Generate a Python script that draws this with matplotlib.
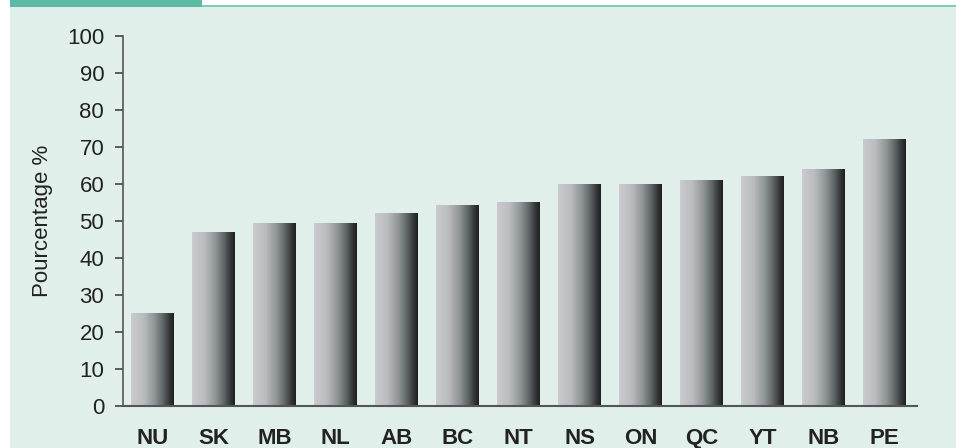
import matplotlib
matplotlib.use("Agg")
import matplotlib.pyplot as plt
import numpy as np
from matplotlib.colors import LinearSegmentedColormap
from matplotlib.patches import Rectangle

provinces = ["NU", "SK", "MB", "NL", "AB", "BC", "NT", "NS", "ON", "QC", "YT", "NB", "PE"]
values = [25, 47, 49.3, 49.3, 52, 54.2, 55.2, 60, 60, 61.1, 62.2, 63.9, 72]
y_ticks = [0, 10, 20, 30, 40, 50, 60, 70, 80, 90, 100]
y_label = "Pourcentage %"

W, H = 956, 448
fig = plt.figure(figsize=(W / 100, H / 100), dpi=100, facecolor="white")
plt.rcParams["font.family"] = ["Liberation Sans", "DejaVu Sans"]

# background panel and header decoration
fig.patches.append(Rectangle((10 / W, 0), 1 - 10 / W, 1 - 7 / H, transform=fig.transFigure,
                             facecolor="#e0efea", edgecolor="none", zorder=-10))
fig.patches.append(Rectangle((10 / W, 1 - 7 / H), 192 / W, 7 / H, transform=fig.transFigure,
                             facecolor="#5bbba5", edgecolor="none", zorder=-9))
fig.patches.append(Rectangle((202 / W, 1 - 7.5 / H), 1 - 202 / W, 2 / H, transform=fig.transFigure,
                             facecolor="#7ccbbb", edgecolor="none", zorder=-9))

ax = fig.add_axes([123 / W, 1 - 406 / H, (917 - 123) / W, (406 - 35.7) / H])
ax.set_facecolor("none")

x = np.arange(len(provinces))
bars = ax.bar(x, values, width=0.70, color="none", edgecolor="none", zorder=2)

cmap = LinearSegmentedColormap.from_list("bar", [
    (0.0, "#cacbce"),
    (0.3, "#b9bbbe"),
    (0.55, "#8f9496"),
    (0.75, "#5f6465"),
    (0.9, "#343537"),
    (1.0, "#1f1f20"),
])
grad = np.linspace(0, 1, 256).reshape(1, -1)
for b in bars:
    x0 = b.get_x()
    x1 = x0 + b.get_width()
    h = b.get_height()
    im = ax.imshow(grad, extent=[x0, x1, 0, h], aspect="auto", cmap=cmap,
                   interpolation="bicubic", zorder=2)
    im.set_clip_path(b)

ax.set_xlim(-0.484, 12.53)
ax.set_ylim(0, 100)
ax.set_yticks(y_ticks)
ax.set_yticklabels([str(t) for t in y_ticks], fontsize=16, color="#222222")
ax.set_xticks(x)
ax.set_xticklabels(provinces, fontsize=16, fontweight="bold", color="#222222")
ax.tick_params(axis="x", length=0, pad=16)
ax.tick_params(axis="y", length=6, width=1.2, color="#444444", pad=7.5)

for s in ["top", "right"]:
    ax.spines[s].set_visible(False)
ax.spines["left"].set_color("#555555")
ax.spines["left"].set_linewidth(1.2)
ax.spines["bottom"].set_color("#555555")
ax.spines["bottom"].set_linewidth(1.5)

ax.set_ylabel(y_label, fontsize=16, color="#222222")
ax.yaxis.set_label_coords(-0.088, 0.5)

fig.savefig("out.png", dpi=100, facecolor="white")
